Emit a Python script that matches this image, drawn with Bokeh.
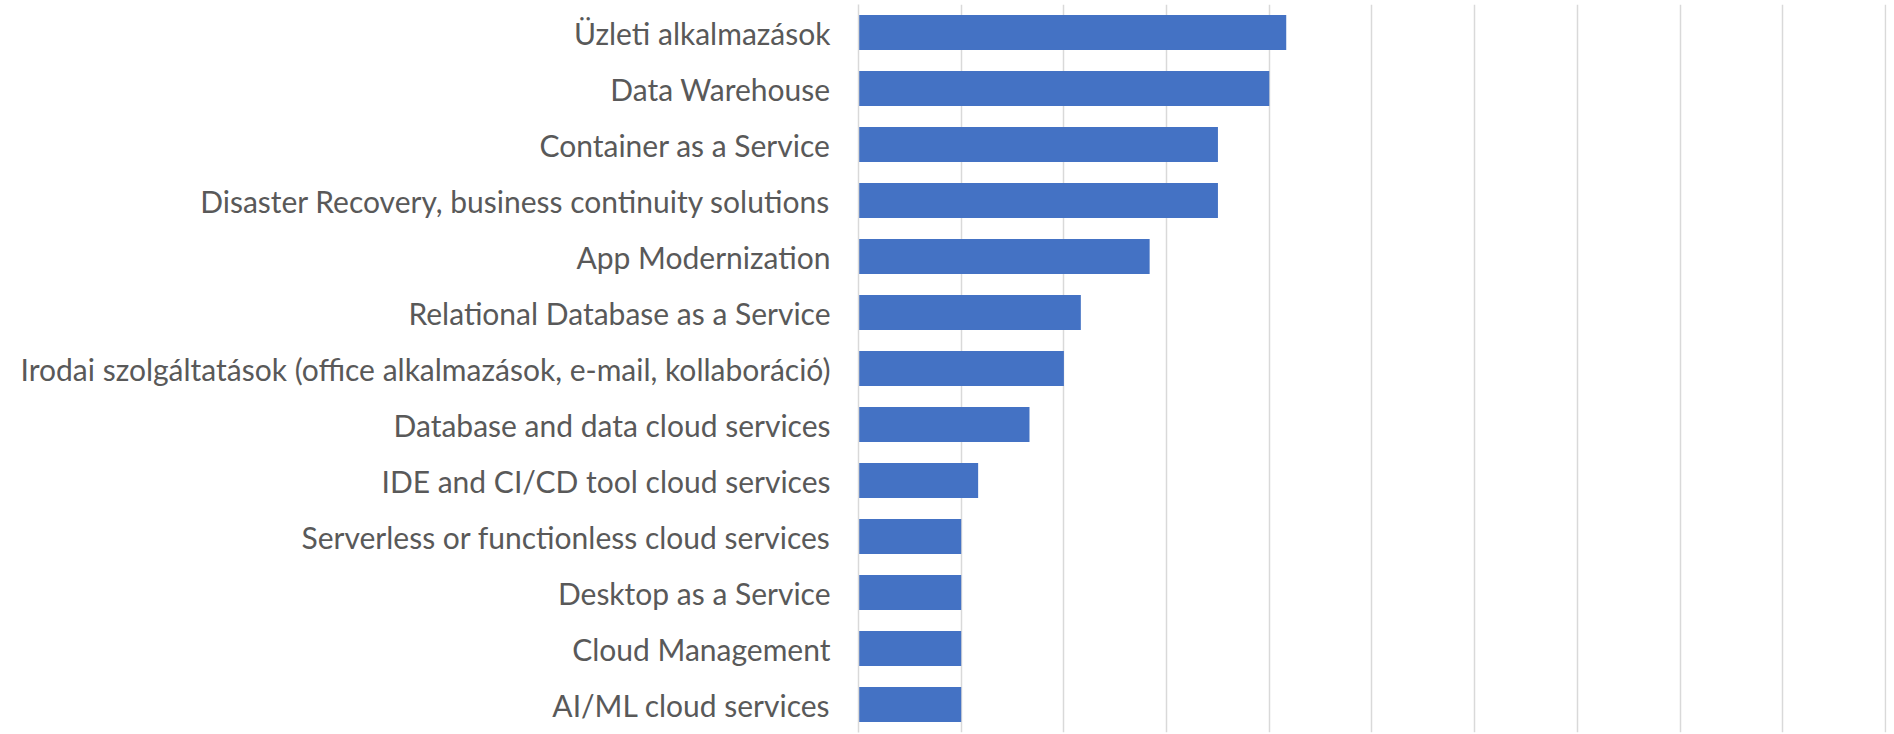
from bokeh.plotting import figure
from bokeh.models import ColumnDataSource, FactorRange, Range1d, SingleIntervalTicker
from bokeh.embed import file_html
from bokeh.resources import INLINE

categories = [
    "Üzleti alkalmazások",
    "Data Warehouse",
    "Container as a Service",
    "Disaster Recovery, business continuity solutions",
    "App Modernization",
    "Relational Database as a Service",
    "Irodai szolgáltatások (office alkalmazások, e-mail, kollaboráció)",
    "Database and data cloud services",
    "IDE and CI/CD tool cloud services",
    "Serverless or functionless cloud services",
    "Desktop as a Service",
    "Cloud Management",
    "AI/ML cloud services",
]
values = [8.33, 8.0, 7.0, 7.0, 5.67, 4.33, 4.0, 3.33, 2.33, 2.0, 2.0, 2.0, 2.0]

source = ColumnDataSource(data=dict(cat=categories, val=values))

p = figure(
    width=1890, height=734,
    y_range=FactorRange(*list(reversed(categories)), range_padding=0),
    x_range=Range1d(0, 20.02),
    output_backend="svg", toolbar_location=None,
    min_border_left=858, min_border_right=4, min_border_top=4, min_border_bottom=2,
)
p.hbar(y="cat", right="val", left=0, height=0.625, source=source,
       fill_color="#4472C4", line_color=None)

p.xaxis.visible = False
p.xaxis.ticker = SingleIntervalTicker(interval=2)
p.xgrid.ticker = SingleIntervalTicker(interval=2)
p.xgrid.grid_line_color = "#d9d9d9"
p.xgrid.grid_line_width = 1.5
p.ygrid.grid_line_color = None
p.outline_line_color = None

ax = p.yaxis[0]
ax.axis_line_color = "#d9d9d9"
ax.axis_line_width = 1.5
ax.major_tick_line_color = None
ax.minor_tick_line_color = None
ax.major_tick_out = 0
ax.major_label_standoff = 28
ax.major_label_text_font = "Lato"
ax.major_label_text_font_size = "30px"
ax.major_label_text_color = "#595959"

p.background_fill_color = "white"
p.border_fill_color = "white"

open("out.html", "w").write(file_html(p, INLINE))
